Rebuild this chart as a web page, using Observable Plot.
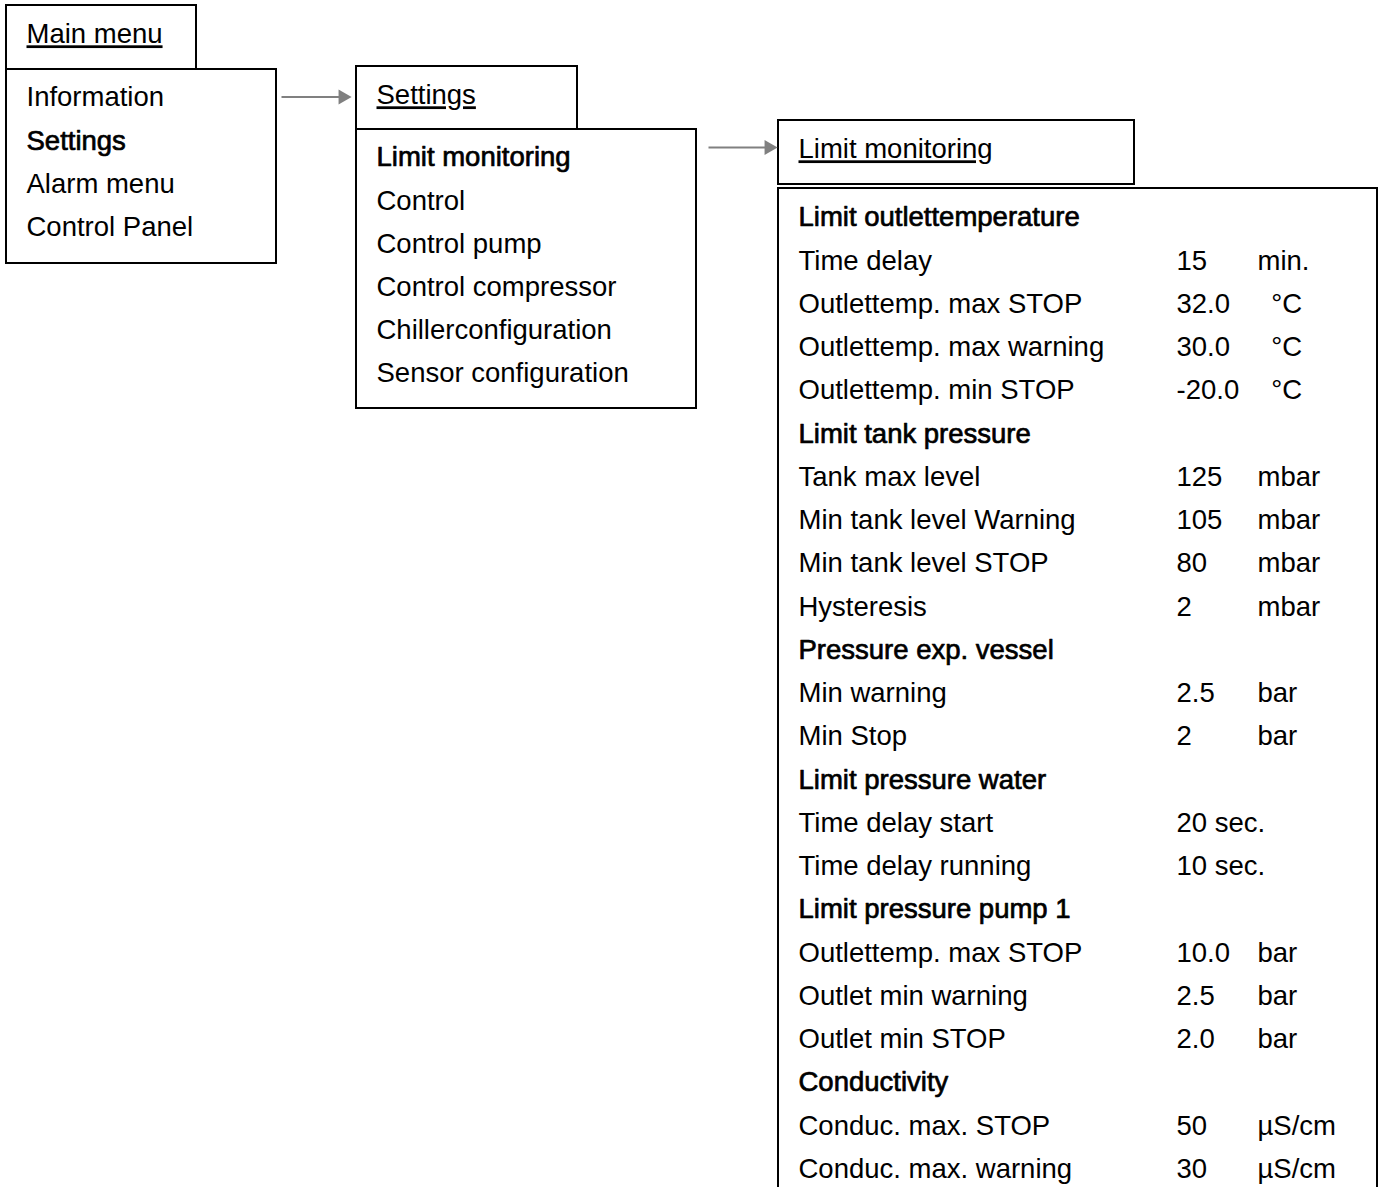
<!DOCTYPE html>
<html><head><meta charset="utf-8">
<script src="https://cdn.jsdelivr.net/npm/d3@7"></script>
<script src="https://cdn.jsdelivr.net/npm/@observablehq/plot@0.6"></script>
<style>
html,body{margin:0;padding:0;background:#fff;}
#chart svg{display:block;}
</style></head><body><div id="chart"></div>
<script>
// ---- data ----
const mainTitle = "Main menu";
const mainItems = ["Information", "Settings", "Alarm menu", "Control Panel"];
const mainSelected = "Settings";

const settingsTitle = "Settings";
const settingsItems = ["Limit monitoring", "Control", "Control pump", "Control compressor", "Chillerconfiguration", "Sensor configuration"];
const settingsSelected = "Limit monitoring";

const limitTitle = "Limit monitoring";
const limitLabels = [
  "Limit outlettemperature", "Time delay", "Outlettemp. max STOP", "Outlettemp. max warning", "Outlettemp. min STOP",
  "Limit tank pressure", "Tank max level", "Min tank level Warning", "Min tank level STOP", "Hysteresis",
  "Pressure exp. vessel", "Min warning", "Min Stop",
  "Limit pressure water", "Time delay start", "Time delay running",
  "Limit pressure pump 1", "Outlettemp. max STOP", "Outlet min warning", "Outlet min STOP",
  "Conductivity", "Conduc. max. STOP", "Conduc. max. warning"
];
const limitValues = [
  "", "15", "32.0", "30.0", "-20.0",
  "", "125", "105", "80", "2",
  "", "2.5", "2",
  "", "20 sec.", "10 sec.",
  "", "10.0", "2.5", "2.0",
  "", "50", "30"
];
const limitUnits = [
  "", "min.", "\u2002°C", "\u2002°C", "\u2002°C",
  "", "mbar", "mbar", "mbar", "mbar",
  "", "bar", "bar",
  "", "", "",
  "", "bar", "bar", "bar",
  "", "µS/cm", "µS/cm"
];
const limitHeaders = ["Limit outlettemperature", "Limit tank pressure", "Pressure exp. vessel", "Limit pressure water", "Limit pressure pump 1", "Conductivity"];

// ---- layout ----
const W = 1384, H = 1187, FS = 27.5;
const FONT = "Liberation Sans, Arial, sans-serif";
const layout = {
  main:     {title: [6, 196, 5, 69],    box: [6, 276, 69, 263],     textX: 26,  titleY: 34,  firstY: 97,  row: 43.3},
  settings: {title: [356, 577, 66, 129], box: [356, 696, 129, 408],  textX: 376, titleY: 95,  firstY: 157, row: 43.2},
  limit:    {title: [778, 1134, 120, 184], box: [778, 1377, 188, H + 30], textX: 798, titleY: 149, firstY: 217, row: 43.25, valueX: 1176, unitX: 1257}
};
const arrowsLayout = [
  {x1: 281, x2: 351, y: 96.5},
  {x1: 708, x2: 777, y: 147}
];

// ---- build mark tables from data ----
const boxes = [];
const titles = [];
const normal = [];
const bold = [];
function panel(L, title, items, isBold) {
  boxes.push({x1: L.title[0], x2: L.title[1], y1: L.title[2], y2: L.title[3]});
  boxes.push({x1: L.box[0], x2: L.box[1], y1: L.box[2], y2: L.box[3]});
  titles.push({x: L.textX, y: L.titleY, text: title});
  items.forEach((t, i) => {
    const row = {x: L.textX, y: L.firstY + i * L.row, text: t};
    (isBold(t, i) ? bold : normal).push(row);
  });
}
panel(layout.main, mainTitle, mainItems, t => t === mainSelected);
panel(layout.settings, settingsTitle, settingsItems, t => t === settingsSelected);
panel(layout.limit, limitTitle, limitLabels, (t, i) => limitValues[i] === "" && limitHeaders.includes(t));
const L = layout.limit;
limitValues.forEach((v, i) => { if (v) normal.push({x: L.valueX, y: L.firstY + i * L.row, text: v}); });
limitUnits.forEach((u, i) => { if (u) normal.push({x: L.unitX, y: L.firstY + i * L.row, text: u}); });

const tipOffset = 8.6;
const plot = Plot.plot({
  width: W, height: H, margin: 0,
  x: {domain: [0, W], range: [0, W], axis: null},
  y: {domain: [0, H], range: [0, H], axis: null},
  style: {background: "white", fontFamily: FONT},
  marks: [
    Plot.rect(boxes, {x1: "x1", x2: "x2", y1: "y1", y2: "y2", fill: "white", stroke: "black", strokeWidth: 2, clip: true}),
    Plot.link(arrowsLayout, {x1: "x1", x2: d => d.x2 - tipOffset, y1: "y", y2: "y", stroke: "#808080", strokeWidth: 2}),
    Plot.dot(arrowsLayout, {x: d => d.x2 - tipOffset, y: "y", symbol: "triangle", rotate: 90, r: 5.6, fill: "#808080", stroke: "none"}),
    Plot.text(normal, {x: "x", y: "y", text: "text", textAnchor: "start", fontSize: FS, fill: "black", fontFamily: FONT}),
    Plot.text(bold, {x: "x", y: "y", text: "text", textAnchor: "start", fontSize: FS, fill: "black", stroke: "black", strokeWidth: 0.7, fontFamily: FONT}),
    Plot.text(titles, {x: "x", y: "y", text: "text", textAnchor: "start", fontSize: FS, fill: "black", fontFamily: FONT, ariaDescription: "titles"})
  ]
});
d3.select(plot).selectAll('g[aria-description="titles"] text').style("text-decoration", "underline");
document.getElementById("chart").appendChild(plot);
</script></body></html>
